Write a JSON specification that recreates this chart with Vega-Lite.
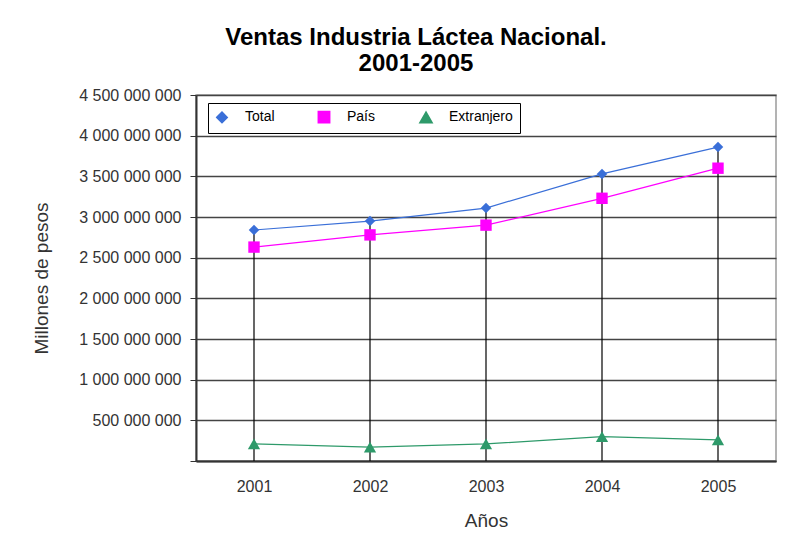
{
  "$schema": "https://vega.github.io/schema/vega-lite/v6.json",
  "width": 580,
  "height": 366,
  "autosize": {"type": "none"},
  "padding": {"left": 196, "top": 95, "right": 20, "bottom": 85},
  "background": "white",
  "config": {
    "font": "Liberation Sans",
    "locale": {"number": {"decimal": ",", "thousands": " ", "grouping": [3], "currency": ["$", ""]}},
    "view": {"stroke": "#9a9a9a", "strokeWidth": 1.5}
  },
  "title": {
    "text": ["Ventas Industria Láctea Nacional.", "2001-2005"],
    "fontSize": 24,
    "fontWeight": "bold",
    "color": "#000000",
    "anchor": "middle",
    "frame": "group",
    "dx": -70,
    "offset": 11,
    "lineHeight": 26
  },
  "data": {
    "values": [
      {"year": "2001", "series": "Total", "value": 2840000000},
      {"year": "2002", "series": "Total", "value": 2950000000},
      {"year": "2003", "series": "Total", "value": 3110000000},
      {"year": "2004", "series": "Total", "value": 3530000000},
      {"year": "2005", "series": "Total", "value": 3860000000},
      {"year": "2001", "series": "País", "value": 2630000000},
      {"year": "2002", "series": "País", "value": 2780000000},
      {"year": "2003", "series": "País", "value": 2900000000},
      {"year": "2004", "series": "País", "value": 3230000000},
      {"year": "2005", "series": "País", "value": 3600000000},
      {"year": "2001", "series": "Extranjero", "value": 210000000},
      {"year": "2002", "series": "Extranjero", "value": 170000000},
      {"year": "2003", "series": "Extranjero", "value": 210000000},
      {"year": "2004", "series": "Extranjero", "value": 300000000},
      {"year": "2005", "series": "Extranjero", "value": 260000000}
    ]
  },
  "encoding": {
    "x": {
      "field": "year",
      "type": "ordinal",
      "scale": {"type": "point", "padding": 0.5},
      "axis": {
        "title": "Años",
        "labelAngle": 0,
        "labelFontSize": 16,
        "labelColor": "#333333",
        "titleFontSize": 19,
        "titleFontWeight": "normal",
        "titleColor": "#333333",
        "ticks": false,
        "labelPadding": 17,
        "titlePadding": 17,
        "domainColor": "#333333",
        "domainWidth": 2,
        "grid": false
      }
    },
    "y": {
      "field": "value",
      "type": "quantitative",
      "scale": {"domain": [0, 4500000000], "nice": false},
      "axis": {
        "title": "Millones de pesos",
        "values": [0, 500000000, 1000000000, 1500000000, 2000000000, 2500000000, 3000000000, 3500000000, 4000000000, 4500000000],
        "format": ",d",
        "labelExpr": "datum.value == 0 ? '' : datum.label",
        "labelFontSize": 16,
        "labelColor": "#333333",
        "labelPadding": 9,
        "titleFontSize": 19,
        "titleFontWeight": "normal",
        "titleColor": "#333333",
        "titlePadding": 27,
        "tickSize": 6,
        "tickColor": "#333333",
        "domainColor": "#333333",
        "domainWidth": 2,
        "grid": true,
        "gridColor": "#444444",
        "gridWidth": 1.5
      }
    }
  },
  "layer": [
    {
      "transform": [{"filter": "datum.series == 'Total'"}],
      "mark": {"type": "rule", "color": "#000000", "strokeWidth": 1.2},
      "encoding": {"y2": {"datum": 0}}
    },
    {
      "mark": {"type": "line", "strokeWidth": 1.2},
      "encoding": {
        "color": {
          "field": "series",
          "type": "nominal",
          "scale": {"domain": ["Total", "País", "Extranjero"], "range": ["#3a6fd8", "#ff00ff", "#2e9a6a"]}
        }
      }
    },
    {
      "mark": {"type": "point", "filled": true, "opacity": 1},
      "encoding": {
        "color": {
          "field": "series",
          "type": "nominal",
          "scale": {"domain": ["Total", "País", "Extranjero"], "range": ["#3a6fd8", "#ff00ff", "#2e9a6a"]},
          "legend": {
            "title": null,
            "orient": "none",
            "legendX": 12,
            "legendY": 8,
            "direction": "horizontal",
            "strokeColor": "#000000",
            "fillColor": "#ffffff",
            "padding": 7,
            "labelFontSize": 14,
            "labelColor": "#000000",
            "symbolSize": 80,
            "columnPadding": 40,
            "labelOffset": 16
          }
        },
        "shape": {
          "field": "series",
          "type": "nominal",
          "scale": {"domain": ["Total", "País", "Extranjero"], "range": ["diamond", "square", "triangle-up"]}
        },
        "size": {
          "field": "series",
          "type": "nominal",
          "scale": {"domain": ["Total", "País", "Extranjero"], "range": [110, 150, 110]},
          "legend": null
        }
      }
    }
  ]
}
